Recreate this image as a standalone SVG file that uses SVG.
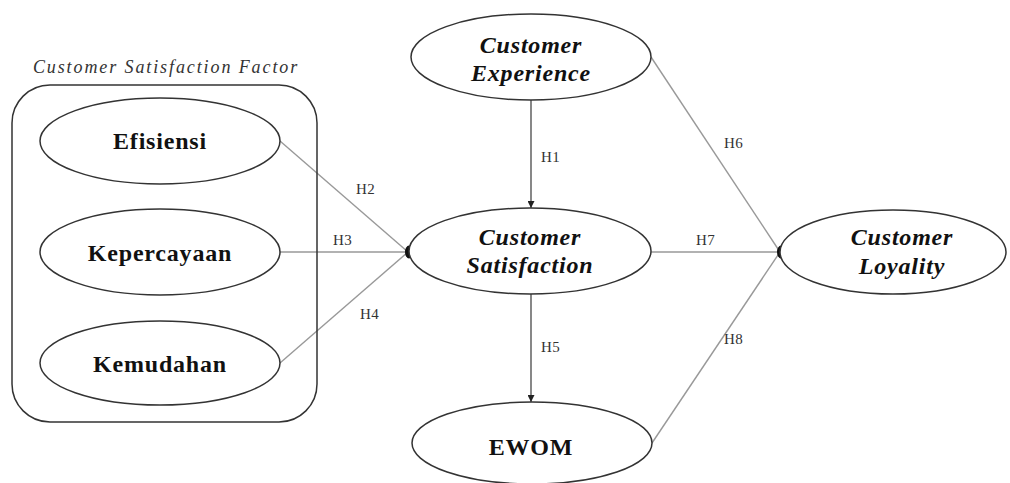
<svg xmlns="http://www.w3.org/2000/svg" width="1010" height="483" viewBox="0 0 1010 483">
<defs>
<marker id="arr" viewBox="0 0 10 10" refX="10" refY="5" markerWidth="7" markerHeight="7" orient="auto" markerUnits="userSpaceOnUse">
<path d="M0,0 L10,5 L0,10 z" fill="#222"/>
</marker>
<style>
.node{fill:#fff;stroke:#333;stroke-width:1.5}
.lbl{font-weight:bold;font-size:24px;letter-spacing:0.8px;fill:#111;text-anchor:middle}
.it{font-style:italic}
.conn{stroke:#999;stroke-width:1.4;fill:none}
.v{stroke:#555}
.h{font-size:15px;letter-spacing:0.4px;fill:#333}
.dot{fill:#111}
</style>
</defs>
<rect width="1010" height="483" fill="#fff"/>
<g id="connectors" font-family="'Liberation Serif', serif">
<line class="conn" x1="280" y1="141" x2="408" y2="252"/>
<line class="conn" x1="280" y1="252" x2="408" y2="252"/>
<line class="conn" x1="280" y1="363" x2="408" y2="252"/>
<line class="conn v" x1="531" y1="100" x2="531" y2="208" marker-end="url(#arr)"/>
<line class="conn v" x1="531" y1="294" x2="531" y2="402" marker-end="url(#arr)"/>
<line class="conn" x1="651" y1="57" x2="780" y2="252"/>
<line class="conn" x1="651" y1="252" x2="780" y2="252"/>
<line class="conn" x1="652" y1="443" x2="780" y2="252"/>
<ellipse class="dot" cx="409" cy="252" rx="4" ry="6.5"/>
<ellipse class="dot" cx="781" cy="252" rx="4" ry="6.5"/>
<text class="h" x="356" y="194">H2</text>
<text class="h" x="333" y="245">H3</text>
<text class="h" x="360" y="319">H4</text>
<text class="h" x="541" y="162">H1</text>
<text class="h" x="541" y="352">H5</text>
<text class="h" x="724" y="148">H6</text>
<text class="h" x="696" y="245">H7</text>
<text class="h" x="724" y="344">H8</text>
</g>
<g id="factor" font-family="'Liberation Serif', serif">
<text x="166" y="73" font-style="italic" font-size="18" letter-spacing="1.9" fill="#333" text-anchor="middle">Customer Satisfaction Factor</text>
<rect x="12" y="85" width="305" height="337" rx="38" ry="38" fill="none" stroke="#333" stroke-width="1.5"/>
</g>
<g id="efisiensi" font-family="'Liberation Serif', serif">
<ellipse class="node" cx="160" cy="141" rx="120" ry="43"/>
<text class="lbl" x="160" y="149">Efisiensi</text>
</g>
<g id="kepercayaan" font-family="'Liberation Serif', serif">
<ellipse class="node" cx="160" cy="252" rx="120" ry="43"/>
<text class="lbl" x="160" y="261">Kepercayaan</text>
</g>
<g id="kemudahan" font-family="'Liberation Serif', serif">
<ellipse class="node" cx="160" cy="363" rx="120" ry="42"/>
<text class="lbl" x="160" y="372">Kemudahan</text>
</g>
<g id="experience" font-family="'Liberation Serif', serif">
<ellipse class="node" cx="531" cy="57" rx="120" ry="43"/>
<text class="lbl it" x="531" y="53">Customer</text>
<text class="lbl it" x="531" y="81">Experience</text>
</g>
<g id="satisfaction" font-family="'Liberation Serif', serif">
<ellipse class="node" cx="530" cy="251" rx="121" ry="43"/>
<text class="lbl it" x="530" y="245">Customer</text>
<text class="lbl it" x="530" y="273">Satisfaction</text>
</g>
<g id="loyality" font-family="'Liberation Serif', serif">
<ellipse class="node" cx="893" cy="252" rx="113" ry="42"/>
<text class="lbl it" x="902" y="245">Customer</text>
<text class="lbl it" x="902" y="274">Loyality</text>
</g>
<g id="ewom" font-family="'Liberation Serif', serif">
<ellipse class="node" cx="532" cy="443" rx="120" ry="41"/>
<text class="lbl" x="531" y="455">EWOM</text>
</g>
</svg>
